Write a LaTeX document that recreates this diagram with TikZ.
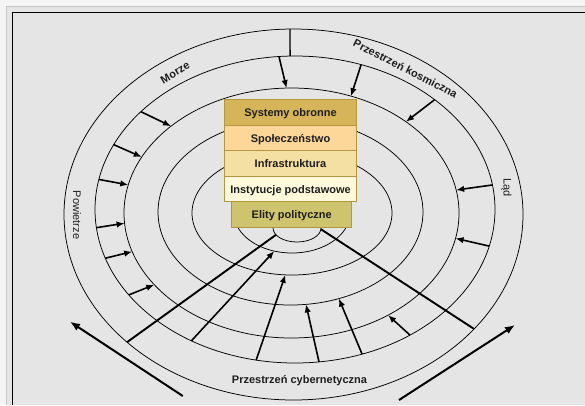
\documentclass[tikz,border=0pt]{standalone}
\usepackage{fontspec}
\setmainfont{Liberation Sans}
\usetikzlibrary{arrows.meta,calc}

\definecolor{pagebg}{HTML}{F4F4F4}
\definecolor{panelbg}{HTML}{E5E5E5}
\definecolor{panelrule}{HTML}{C4C4C4}
\definecolor{boxrule}{HTML}{B4963C}
\definecolor{defc}{HTML}{D6B45A}
\definecolor{socc}{HTML}{FDD699}
\definecolor{infc}{HTML}{F5E0A4}
\definecolor{insc}{HTML}{FFF9DC}
\definecolor{elic}{HTML}{CEC46E}
\definecolor{inkc}{HTML}{1E1E1E}

\begin{document}
\begin{tikzpicture}[x=1pt, y=-1pt,
  ring/.style={draw=black, line width=0.75pt},
  ringarrow/.style={draw=black, line width=1.6pt, -{Latex[length=8pt,width=6.5pt]}},
  spoke/.style={draw=black, line width=1.9pt},
  bigarrow/.style={draw=black, line width=2pt, -{Latex[length=10pt,width=8pt]}},
  layer/.style={draw=boxrule, line width=0.9pt, minimum width=132.4pt,
    minimum height=25.5pt, inner sep=0pt, text height=9.2pt, text depth=0pt,
    font=\fontsize{11}{13}\selectfont\bfseries, text=inkc},
  ringlabel/.style={inner sep=0pt, text height=8pt, text depth=0pt,
    font=\fontsize{11}{13}\selectfont, text=inkc},
  boldlabel/.style={ringlabel, font=\fontsize{11}{13}\selectfont\bfseries}
]

\useasboundingbox (0,0) rectangle (585,405);
\clip (0,0) rectangle (585,405);

% page and framed panel
\fill[pagebg] (0,0) rectangle (585,405);
\fill[panelbg] (6,6) rectangle (585,405);
\draw[panelrule, line width=1pt] (6,405) -- (6,6) -- (585,6);
\draw[black, line width=1pt] (12.5,405) -- (12.5,12.5) -- (585,12.5);

% centres of the rings
\coordinate (c1) at (293.5,214.5);
\coordinate (c2) at (295,209.5);
\coordinate (c3) at (291.5,213);
\coordinate (c4) at (290.5,212);
\coordinate (c5) at (292,213);
\coordinate (c6) at (292,213);
\coordinate (c7) at (297,228);

% rings
\draw[ring] (c1) ellipse [x radius=229.5pt, y radius=185.5pt];
\draw[ring] (c2) ellipse [x radius=200pt, y radius=153.5pt];
\draw[ring] (c3) ellipse [x radius=167.5pt, y radius=125pt];
\draw[ring] (c4) ellipse [x radius=132.5pt, y radius=93pt];
\draw[ring] (c5) ellipse [x radius=100pt, y radius=62pt];
\draw[ring] (c6) ellipse [x radius=58pt, y radius=40pt];
\draw[ring] (c7) ellipse [x radius=24pt, y radius=14pt];

% stacked layers
\node[layer, fill=elic, minimum width=120pt] (eli) at (291.7,214.25) {Elity polityczne};
\node[layer, fill=insc] (ins) at (290.5,188.75) {Instytucje podstawowe};
\node[layer, fill=infc] (inf) at (290.5,163.25) {Infrastruktura};
\node[layer, fill=socc] (soc) at (290.5,137.75) {Społeczeństwo};
\node[layer, fill=defc] (sys) at (290.5,112.25) {Systemy obronne};

% ring labels
\node[boldlabel, rotate=31] (sea) at (175,72.5) {Morze};
\node[boldlabel, rotate=-27] (space) at (405.5,68.5) {Przestrzeń kosmiczna};
\node[ringlabel, rotate=-90] (air) at (77,215) {Powietrze};
\node[ringlabel, rotate=-90] (land) at (507.5,187.5) {Ląd};
\node[boldlabel] (cyber) at (299.5,379.5) {Przestrzeń cybernetyczna};

% divider at the top of the outer band
\coordinate (d1) at ($(c1)+(90.87:229.5pt and 185.5pt)$);
\coordinate (d2) at ($(c2)+(91.4:200pt and 153.5pt)$);
\draw[black, line width=1.3pt] (d1) -- (d2);

% arrows from the second ring onto the third
\foreach \s/\e [count=\i] in {94.6/91.7, 70.7/69.2, 45.7/46.9, 140.4/136,
    155/153.4, 168.7/167, 186.8/184.7, 198.5/198, 213.8/215, 9.2/10.6,
    -13.8/-11.7}{
  \coordinate (rs\i) at ($(c2)+(\s:200pt and 153.5pt)$);
  \coordinate (re\i) at ($(c3)+(\e:167.5pt and 125pt)$);
  \draw[ringarrow] (rs\i) -- (re\i);
}

% arrows from the cyber band towards the core
\coordinate (b1s) at ($(c2)+(238.8:200pt and 153.5pt)$);
\coordinate (b1e) at ($(c6)+(252.2:58pt and 40pt)$);
\coordinate (b2s) at ($(c2)+(258.8:200pt and 153.5pt)$);
\coordinate (b2e) at ($(c5)+(266.2:100pt and 62pt)$);
\coordinate (b3s) at ($(c2)+(276.9:200pt and 153.5pt)$);
\coordinate (b3e) at ($(c4)+(276.7:132.5pt and 93pt)$);
\coordinate (b4s) at ($(c2)+(289.6:200pt and 153.5pt)$);
\coordinate (b4e) at ($(c4)+(291.4:132.5pt and 93pt)$);
\coordinate (b5s) at ($(c2)+(305.1:200pt and 153.5pt)$);
\coordinate (b5e) at ($(c3)+(305.2:167.5pt and 125pt)$);
\foreach \i in {1,...,5}{\draw[ringarrow] (b\i s) -- (b\i e);}

% spokes bounding the cyber sector
\coordinate (q1) at ($(c1)+(223.5:229.5pt and 185.5pt)$);
\coordinate (q2) at ($(c7)+(209:24pt and 14pt)$);
\coordinate (q3) at ($(c7)+(-5:24pt and 14pt)$);
\coordinate (q4) at ($(c1)+(-38.1:229.5pt and 185.5pt)$);
\draw[spoke] (q1) -- (q2);
\draw[spoke] (q3) -- (q4);

% outer arrows
\coordinate (la) at (182.8,396);
\coordinate (lb) at (70,321.7);
\coordinate (ra) at (399,400);
\coordinate (rb) at (515,325);
\draw[bigarrow] (la) -- (lb);
\draw[bigarrow] (ra) -- (rb);

\end{tikzpicture}
\end{document}
